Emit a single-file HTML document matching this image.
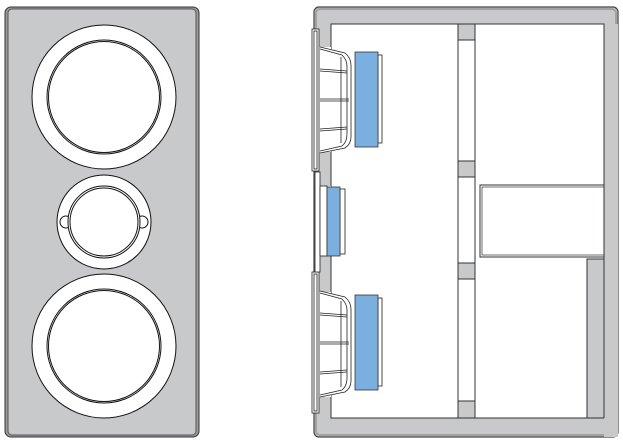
<!DOCTYPE html>
<html><head><meta charset="utf-8"><style>html,body{margin:0;padding:0;background:#fff}svg{display:block}</style></head>
<body>
<svg width="623" height="442" viewBox="0 0 623 442" xmlns="http://www.w3.org/2000/svg">
<!-- Front view -->
<rect x="5" y="7" width="194" height="430" rx="6" fill="#9a9b9d" stroke="#333" stroke-width="1"/>
<rect x="8" y="9" width="188" height="426" rx="4" fill="#c8c9cb" stroke="#555" stroke-width="1"/>
<g fill="#fff" stroke="#111" stroke-width="1">
<circle cx="104" cy="97" r="72"/>
<circle cx="104" cy="97" r="57"/>
<circle cx="104" cy="97" r="55.5" fill="none"/>
<circle cx="104" cy="222" r="47"/>
<circle cx="66" cy="222" r="6"/>
<circle cx="142" cy="222" r="6"/>
<circle cx="104" cy="222" r="36"/>
<circle cx="104" cy="222" r="34" fill="none"/>
<circle cx="104" cy="346" r="72"/>
<circle cx="104" cy="346" r="57"/>
<circle cx="104" cy="346" r="55.5" fill="none"/>
</g>
<!-- Side section -->
<rect x="314" y="7" width="304" height="430" rx="5" fill="#c8c9cb" stroke="#444" stroke-width="1.2"/>
<rect x="316" y="9" width="300" height="426" rx="4" fill="none" stroke="#888" stroke-width="2" opacity="0.6"/>
<rect x="331" y="24" width="127" height="394" fill="#fff" stroke="#333"/>
<rect x="475" y="24" width="129" height="394" fill="#fff" stroke="#333"/>
<rect x="458" y="24" width="17" height="394" fill="#fff" stroke="#333"/>
<g fill="#c8c9cb" stroke="#333">
<rect x="458" y="24" width="17" height="16"/>
<rect x="458" y="161" width="17" height="16"/>
<rect x="458" y="263" width="17" height="16"/>
<rect x="458" y="401" width="17" height="17"/>
<rect x="587" y="259" width="17" height="159"/>
</g>
<rect x="604" y="24" width="14" height="413" fill="#c8c9cb"/>
<line x1="604" y1="24" x2="604" y2="418" stroke="#333"/>
<!-- port -->
<rect x="480" y="185" width="124" height="72" fill="#fff" stroke="#333"/>
<rect x="482" y="187" width="122" height="68" fill="none" stroke="#333" stroke-width="0.7"/>
<!-- left wall cutouts -->
<rect x="318" y="47" width="13" height="105" fill="#fff"/>
<rect x="318" y="292" width="13" height="105" fill="#fff"/>
<rect x="318" y="186" width="13" height="70" fill="#fff"/>
<!-- woofer 1 -->
<g stroke="#222" stroke-width="0.8" fill="none">
<rect x="312" y="29" width="7" height="142" fill="#fff"/>
<rect x="314" y="31" width="3" height="138"/>
<path d="M320 47 L345 53 Q351 58 351 65 L351 137 Q351 144 345 148 L320 153" fill="#fff"/>
<path d="M320 49 L342 55 Q347 60 347 66 L347 134 Q347 142 342 146 L320 151"/>
<line x1="320" y1="69" x2="347" y2="71"/><line x1="320" y1="71" x2="347" y2="73"/>
<line x1="320" y1="99" x2="349" y2="99"/><line x1="320" y1="101" x2="349" y2="101"/>
<line x1="320" y1="129" x2="347" y2="127"/><line x1="320" y1="131" x2="347" y2="129"/>
<line x1="341" y1="57" x2="341" y2="143"/>
<rect x="378" y="55" width="4" height="88" fill="#fff"/>
<rect x="355" y="52" width="23" height="95" fill="#7aafe0" stroke="#333"/>
</g>
<!-- woofer 2 -->
<g stroke="#222" stroke-width="0.8" fill="none">
<rect x="312" y="272" width="7" height="141" fill="#fff"/>
<rect x="314" y="274" width="3" height="137"/>
<path d="M320 291 L345 297 Q351 302 351 309 L351 381 Q351 388 345 392 L320 397" fill="#fff"/>
<path d="M320 293 L342 299 Q347 304 347 310 L347 378 Q347 386 342 390 L320 395"/>
<line x1="320" y1="313" x2="347" y2="315"/><line x1="320" y1="315" x2="347" y2="317"/>
<line x1="320" y1="342" x2="349" y2="342"/><line x1="320" y1="344" x2="349" y2="344"/>
<line x1="320" y1="372" x2="347" y2="370"/><line x1="320" y1="374" x2="347" y2="372"/>
<line x1="341" y1="301" x2="341" y2="387"/>
<rect x="378" y="298" width="4" height="88" fill="#fff"/>
<rect x="355" y="295" width="23" height="95" fill="#7aafe0" stroke="#333"/>
</g>
<!-- tweeter -->
<g stroke="#222" stroke-width="0.8">
<rect x="315" y="172" width="5" height="100" fill="#fff"/>
<rect x="320" y="186" width="7" height="70" fill="#fff"/>
<rect x="340" y="189" width="5" height="65" fill="#fff"/>
<rect x="327" y="187" width="13" height="69" fill="#7aafe0" stroke="#333"/>
</g>
</svg>
</body></html>
